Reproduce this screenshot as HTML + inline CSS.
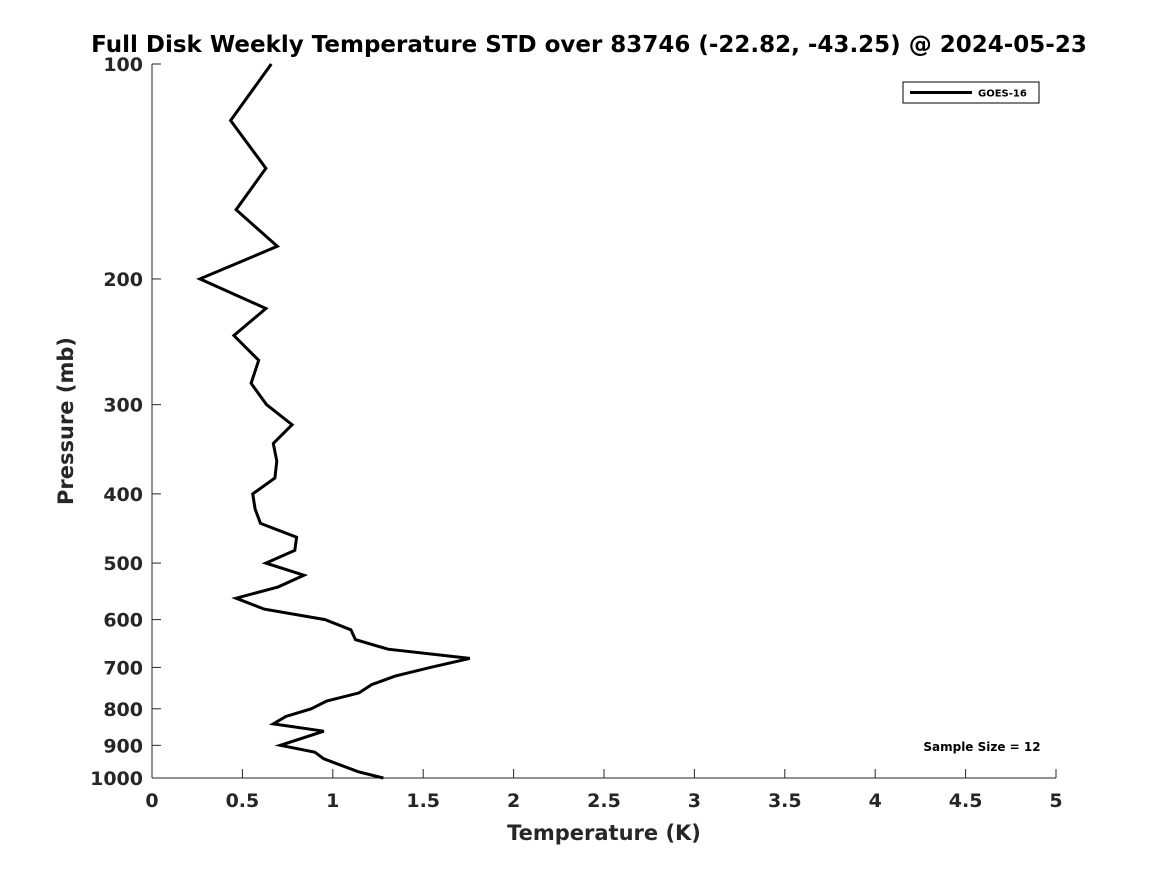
<!DOCTYPE html>
<html><head><meta charset="utf-8"><style>
body{margin:0;background:#fff;}
svg{display:block;font-family:"DejaVu Sans","Liberation Sans",sans-serif;font-weight:bold;}
</style></head><body>
<svg id="c" width="1167" height="875">
<text x="589" y="52" text-anchor="middle" font-size="23" fill="#000">Full Disk Weekly Temperature STD over 83746 (-22.82, -43.25) @ 2024-05-23</text>
<g id="axes"></g>
<text x="0" y="0" transform="translate(73,421) rotate(-90)" text-anchor="middle" font-size="21" fill="#262626">Pressure (mb)</text>
<text x="604" y="840" text-anchor="middle" font-size="21" fill="#262626">Temperature (K)</text>
<g>
<rect x="903" y="82" width="136" height="21" fill="#fff" stroke="#000" stroke-width="1"/>
<line x1="910" y1="92.5" x2="972" y2="92.5" stroke="#000" stroke-width="3"/>
<text x="978" y="96.5" font-size="10" fill="#000">GOES-16</text>
</g>
<text x="982" y="751" text-anchor="middle" font-size="12" fill="#000">Sample Size = 12</text>
</svg>
<script>
const xTicks=[0,0.5,1,1.5,2,2.5,3,3.5,4,4.5,5];
const xTickLabels=["0","0.5","1","1.5","2","2.5","3","3.5","4","4.5","5"];
const yTicks=[100,200,300,400,500,600,700,800,900,1000];
const yTickLabels=["100","200","300","400","500","600","700","800","900","1000"];
const pressure=[100,120,140,160,180,200,220,240,260,280,300,320,340,360,380,400,420,440,460,480,500,520,540,560,580,600,620,640,660,680,700,720,740,760,780,800,820,840,860,900,920,940,980,1000];
const goes16=[0.66,0.435,0.63,0.465,0.693,0.265,0.63,0.453,0.59,0.548,0.634,0.775,0.671,0.69,0.68,0.557,0.57,0.6,0.8,0.79,0.63,0.84,0.698,0.465,0.62,0.957,1.1,1.125,1.306,1.758,1.54,1.345,1.215,1.145,0.966,0.88,0.74,0.671,0.95,0.71,0.9,0.95,1.14,1.28];
const X0=152,X1=1056,Y0=64,Y1=778;
const xs=v=>X0+(v-0)/(5-0)*(X1-X0);
const ys=p=>Y0+(Math.log10(p)-2)/(3-2)*(Y1-Y0);
const NS="http://www.w3.org/2000/svg";
const svg=document.getElementById('c'),ax=document.getElementById('axes');
function mk(t,a,par){const e=document.createElementNS(NS,t);for(const k in a)e.setAttribute(k,a[k]);(par||svg).appendChild(e);return e;}
const yl=mk('line',{x1:X0,y1:Y0,x2:X0,y2:Y1,stroke:'#262626','stroke-width':1},ax);


const xl=mk('line',{x1:X0,y1:Y1,x2:X1,y2:Y1,stroke:'#262626','stroke-width':1},ax);


xTicks.forEach((v,i)=>{
 const t=mk('line',{x1:xs(v),y1:Y1,x2:xs(v),y2:Y1-9,stroke:'#262626','stroke-width':1},ax);
 
 
 const l=mk('text',{x:xs(v),y:Y1+29,'text-anchor':'middle','font-size':19,fill:'#262626'},ax);
 
 
 l.textContent=xTickLabels[i];
});
yTicks.forEach((p,i)=>{
 const t=mk('line',{x1:X0,y1:ys(p),x2:X0+9,y2:ys(p),stroke:'#262626','stroke-width':1},ax);
 
 
 const l=mk('text',{x:X0-9,y:ys(p)+7,'text-anchor':'end','font-size':19,fill:'#262626'},ax);
 
 
 l.textContent=yTickLabels[i];
});
const pts=goes16.map((v,i)=>xs(v).toFixed(1)+','+ys(pressure[i]).toFixed(1)).join(' ');
const pl=mk('polyline',{points:pts,fill:'none',stroke:'#000','stroke-width':3,'stroke-linejoin':'miter'});


</script>
</body></html>
